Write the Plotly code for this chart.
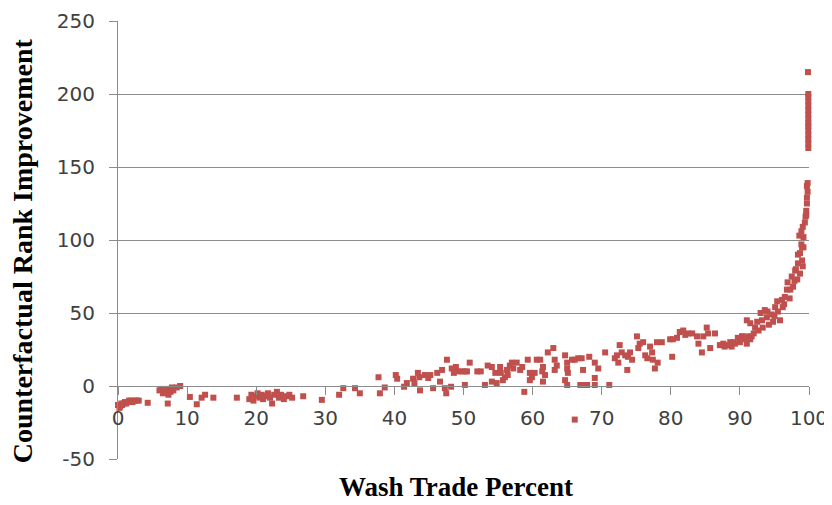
import plotly.graph_objects as go

# colours
GRID = "#8c8c8c"
TEXT = "#404040"
RED = "#C0504D"

# wash trade percent (x) / counterfactual rank improvement (y)
wash_pct = [
    # 0 - 10
    0, 0.2, 0.3, 0.5, 0.6, 0.8, 1.0, 1.2, 1.4, 1.6, 1.9, 2.1, 2.4, 2.7, 3.0, 4.3,
    6.0, 6.2, 6.5, 6.8, 7.0, 7.2, 7.3, 7.6, 7.8, 8.0, 8.5, 9.0,
    # 10 - 32
    10.4, 11.4, 12.1, 12.6, 13.8, 17.2, 19.0, 19.3, 19.6, 20.0, 20.2, 20.5, 20.8,
    21.0, 21.4, 21.7, 22.0, 22.3, 22.6, 23.0, 23.3, 23.6, 24.0, 24.4, 24.8, 25.2,
    26.8, 29.5, 32.0,
    # 32 - 61
    32.6, 34.3, 35.0, 37.7, 37.9, 38.6, 40.2, 40.4, 41.4, 41.8, 42.7, 42.9, 43.4,
    43.6, 43.7, 44.4, 44.9, 45.2, 45.6, 46.2, 46.6, 46.9, 47.3, 47.5, 47.6, 48.2,
    48.3, 48.6, 48.9, 49.2, 49.8, 50.2, 50.5, 50.2, 50.9, 52.0, 52.5, 53.1, 53.5,
    54.1, 54.1, 54.6, 54.8, 55.3, 55.4, 55.7, 56.0, 56.3, 56.4, 56.7, 57.0, 57.2,
    57.7, 58.2, 58.5, 58.8, 59.3, 59.6, 59.9, 59.6, 60.3, 60.6,
    # 61 - 87
    61.1, 61.4, 61.5, 61.8, 61.5, 62.2, 63.0, 63.2, 63.5, 63.2, 64.7, 65.0, 65.0,
    65.1, 64.7, 65.0, 65.7, 66.1, 66.6, 67.1, 67.3, 66.9, 67.3, 67.9, 68.2, 69.0,
    69.5, 69.0, 69.0, 70.5, 71.1, 71.9, 72.4, 72.6, 72.2, 72.9, 73.7, 73.4, 73.8,
    74.1, 74.4, 75.1, 75.3, 75.5, 76.0, 76.3, 76.6, 77.0, 77.3, 77.4, 77.7, 78.0,
    78.1, 78.7, 79.9, 80.2, 80.3, 80.9, 81.3, 81.8, 82.1, 82.5, 83.1, 83.8, 84.0,
    84.5, 84.7, 85.2, 85.4, 85.7, 86.4, 66.1,
    # 87 - 97
    87.1, 87.4, 87.6, 87.8, 88.1, 88.6, 88.8, 89.0, 89.3, 89.7, 90.0, 90.3, 90.4,
    90.7, 91.0, 91.0, 91.2, 91.5, 91.5, 91.7, 92.2, 92.5, 92.0, 92.7, 93.0, 93.2,
    93.3, 93.6, 93.9, 94.0, 94.2, 94.6, 94.8, 95.1, 95.4, 95.5, 95.8, 95.0, 96.1,
    96.2, 96.5, 96.8, 96.9, 97.2, 96.4,
    # 97 - 100
    97.5, 97.7, 98.0, 98.3, 98.4, 98.7, 99.0, 99.1, 98.7, 99.0, 98.4, 97.3, 97.9,
    98.1, 98.9, 99.2, 98.6, 98.9, 99.1, 99.2, 99.4, 99.5, 99.6, 99.7, 99.7, 99.8,
    99.7, 99.8, 99.6,
    99.9, 99.9, 99.9, 99.9, 99.9, 99.9, 99.9,
    99.9, 99.9, 99.9, 99.9, 99.9, 99.9, 99.9, 99.85,
]

rank_gain = [
    # 0 - 10
    -13, -15, -14, -12, -13, -12, -11, -12, -11, -10, -10, -11, -10, -10, -10, -11.5,
    -3, -2, -5, -4, -2, -12, -6, -4, -1, -3, -1, 0,
    # 10 - 32
    -7.5, -12.5, -8, -6, -8, -8, -9, -6, -10, -7, -5, -8, -6,
    -9, -7, -5, -8, -12, -6, -4, -8, -6, -9, -7, -6, -8,
    -7, -9.5, -6,
    # 32 - 61
    -1.5, -1.5, -5, 6, -5, -1, 7.5, 5, -0.5, 2, 5, 2, 9,
    6, -3, 7.5, 5.5, 7.5, -1.5, 9, 3, 11, -1.5, -5, 18, -0.5,
    12, 9, 13, 10, 10, 10, 10, 0.7, 16, 10, 10, 0.7, 14,
    13, 3, 9, 2, 13, 9, 4, 6, 11, 7.5, 14, 16, 12,
    16, 11, 13, -4, 18, 9, 6, 4, 9, 18,
    # 61 - 87
    18, 10, 13, 7.5, 3, 23, 26, 18, 14, 11, 21, 16, 12,
    9, 4, 0.7, 18, 18, 19, 19, 11, 0.7, 0.7, 0.7, 20, 16,
    12, 5.5, 0.7, 23, 0.7, 19, 16, 28, 21, 23, 11, 21, 20,
    23, 18, 34, 26, 29, 30, 21, 19, 27, 23, 18, 12, 30,
    16, 30, 32, 20, 32, 33, 37, 38, 35, 36, 36, 34, 29,
    23, 34, 40, 36, 26, 36, -23,
    # 87 - 97
    28, 28, 29, 27, 28, 30, 27, 30, 29, 33, 30, 34, 34,
    32, 29, 45, 34, 43, 32, 34, 40, 44, 36, 38, 50, 45,
    40, 52, 47, 51, 42, 49, 44, 54, 58, 51, 45, 48, 59,
    54, 61, 66, 71, 60, 56,
    # 97 - 100
    75, 68, 79, 73, 84, 77, 86, 82, 91, 95, 90, 66, 72,
    80, 97, 95, 103, 106, 109, 102, 112, 116, 120, 125, 129, 133,
    137, 139, 117,
    163, 166, 169, 172, 175, 178, 180,
    183, 186, 189, 192, 195, 198, 200, 215,
]

x_ticks = list(range(0, 101, 10))
y_ticks = [-50, 0, 50, 100, 150, 200, 250]
y_tick_labels = ["-50", "0", "50", "100", "150", "200", "250"]

fig = go.Figure()

fig.add_trace(
    go.Scatter(
        x=wash_pct,
        y=rank_gain,
        mode="markers",
        marker=dict(symbol="square", size=6, color=RED, line=dict(width=0)),
        cliponaxis=False,
        hoverinfo="skip",
    )
)

# X axis crosses at y = 0
fig.update_xaxes(
    range=[0, 100],
    tickvals=x_ticks,
    showgrid=False,
    zeroline=False,
    showline=True,
    linecolor=GRID,
    linewidth=1,
    ticks="outside",
    ticklen=8,
    tickcolor=GRID,
    ticklabelstandoff=6,
    tickfont=dict(family="DejaVu Sans", size=20, color=TEXT),
    anchor="free",
    position=50 / 300,
)

fig.update_yaxes(
    range=[-50, 250],
    tickvals=y_ticks,
    ticktext=y_tick_labels,
    showgrid=True,
    gridcolor=GRID,
    gridwidth=1,
    zeroline=False,
    showline=True,
    linecolor=GRID,
    linewidth=1,
    ticks="outside",
    ticklen=8,
    tickcolor=GRID,
    ticklabelstandoff=10,
    tickfont=dict(family="DejaVu Sans", size=20, color=TEXT),
)

# axis titles
fig.add_annotation(
    text="<b>Wash Trade Percent</b>",
    xref="paper", yref="paper",
    x=0.489, y=-0.103,
    xanchor="center", yanchor="bottom",
    showarrow=False,
    font=dict(family="Liberation Serif", size=27, color="#000000"),
)
fig.add_annotation(
    text="<b>Counterfactual Rank Improvement</b>",
    xref="paper", yref="paper",
    x=-0.137, y=0.475,
    xanchor="center", yanchor="middle",
    textangle=-90,
    showarrow=False,
    font=dict(family="Liberation Serif", size=28, color="#000000"),
)

# the page body adds an 8px offset, so the figure is 8px smaller than the window
fig.update_layout(
    width=824,
    height=497,
    autosize=False,
    showlegend=False,
    plot_bgcolor="#FFFFFF",
    paper_bgcolor="#FFFFFF",
    margin=dict(l=110, r=23, t=13, b=46, autoexpand=False),
)

fig.write_html("out.html")
